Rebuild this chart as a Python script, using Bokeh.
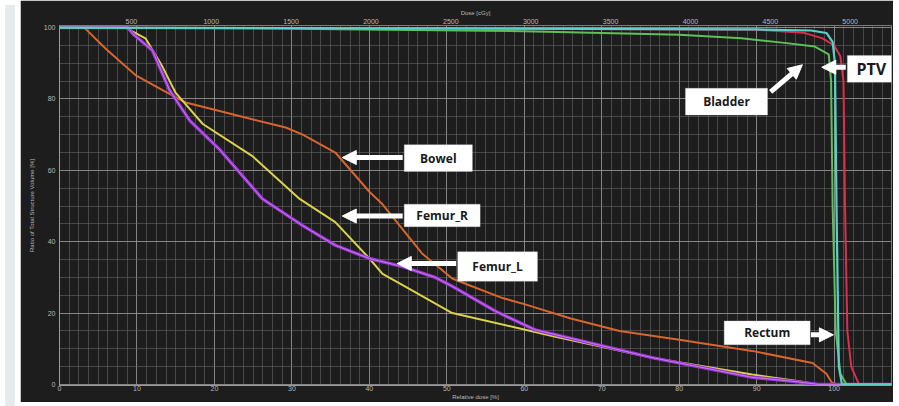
from bokeh.plotting import figure
from bokeh.models import (Range1d, LinearAxis, SingleIntervalTicker, Label, BoxAnnotation,
                          Arrow, NormalHead, Div)
from bokeh.layouts import row
from bokeh.embed import file_html
from bokeh.resources import INLINE

# ---------------- data (relative dose %, volume %) ----------------
ptv_x = [0, 50, 90, 97, 99, 99.8, 100.1, 100.3, 100.6, 101, 108]
ptv_y = [100, 99.8, 99.5, 99.2, 98.5, 96, 90, 50, 5, 0, 0]

rectum_x = [0, 50, 90, 96, 98.5, 100, 100.8, 101.2, 101.4, 101.7, 102.2, 103.2, 108]
rectum_y = [100, 99.8, 99.4, 98.6, 97, 95, 92, 85, 50, 15, 5, 0, 0]

bladder_x = [0, 30, 60, 80, 88, 93.3, 97.5, 99.3, 99.6, 99.8, 100.2, 100.8, 101.6, 108]
bladder_y = [100, 99.7, 99, 98, 97, 95.8, 94.7, 92.5, 85, 50, 15, 3, 0, 0]

bowel_x = [0, 3.2, 6, 9.8, 13.3, 16.3, 22.7, 29.2, 31.4, 35.6, 40, 41.7, 46.8, 50.7,
           52.9, 57.2, 60, 66, 72.3, 80, 89.4, 97.2, 99, 99.7, 100.5, 108]
bowel_y = [100, 100, 94, 86.7, 82.5, 79, 75.5, 72, 70, 65, 54, 50.5, 36.7, 29.7,
           27.8, 24.2, 22.5, 18.5, 15, 12.5, 9.4, 6, 3, 0.5, 0, 0]

femur_r_x = [0, 8.5, 11.1, 13.3, 15, 18.5, 24.9, 31, 35.6, 40, 41.7, 44.3, 50.7,
             63.6, 76.5, 89.4, 95, 98, 108]
femur_r_y = [100, 100, 97, 89, 81.7, 73, 64, 52, 45.5, 35.3, 31, 27.8, 20,
             13.6, 7.5, 2.8, 1, 0, 0]

femur_l_x = [0, 8.8, 9.6, 12, 14.2, 16.8, 20.6, 26.2, 31.4, 35.6, 40, 44.3, 48.5,
             50.7, 56.3, 61.4, 76.5, 89.4, 95, 98, 108]
femur_l_y = [100, 100, 98, 93.6, 82.5, 74, 66, 52, 44.5, 39, 35.3, 33, 30,
             27.5, 20.5, 15.3, 7.5, 2, 0.8, 0, 0]

x_ticks_pct = [0, 10, 20, 30, 40, 50, 60, 70, 80, 90, 100]
y_ticks_pct = [0, 20, 40, 60, 80, 100]
dose_ticks_cgy = [0, 500, 1000, 1500, 2000, 2500, 3000, 3500, 4000, 4500, 5000]

labels = ["Bowel", "Femur_R", "Femur_L", "Bladder", "PTV", "Rectum"]

# ---------------- styles ----------------
BG = "#1d1d1d"
PAGE = "#fdf9e6"
TXT = "#b8b8b8"
H = 402

p = figure(width=873, height=H, output_backend="svg", toolbar_location=None,
           x_range=Range1d(0, 107.4), y_range=Range1d(-0.3, 100.6),
           background_fill_color=BG, border_fill_color=BG,
           min_border_left=39, min_border_right=2, min_border_top=25, min_border_bottom=14,
           outline_line_color="#7a7a7a")

p.extra_x_ranges = {"dose": Range1d(50, 50 + 48.5 * 107.4)}

p.xaxis.ticker = SingleIntervalTicker(interval=10, num_minor_ticks=8)
p.yaxis.ticker = SingleIntervalTicker(interval=20, num_minor_ticks=4)
p.xaxis.major_label_overrides = {v: str(v) for v in x_ticks_pct}
p.yaxis.major_label_overrides = {v: str(v) for v in y_ticks_pct}


def style_axis(ax, line=True):
    ax.axis_line_color = "#9a9a9a" if line else None
    ax.major_tick_line_color = None
    ax.minor_tick_line_color = None
    ax.major_tick_out = 0
    ax.major_tick_in = 0
    ax.minor_tick_out = 0
    ax.minor_tick_in = 0
    ax.major_label_text_color = TXT
    ax.major_label_text_font_size = "7px"
    ax.major_label_standoff = 1
    ax.axis_label_text_color = TXT
    ax.axis_label_text_font_size = "6px"
    ax.axis_label_text_font_style = "normal"
    ax.axis_label_standoff = 0


style_axis(p.xaxis[0])
style_axis(p.yaxis[0])
p.yaxis[0].major_label_standoff = 4
p.yaxis[0].axis_label_standoff = 6
p.xaxis[0].major_label_standoff = 0
p.xaxis.axis_label = "Relative dose [%]"
p.yaxis.axis_label = "Ratio of Total Structure Volume [%]"

top = LinearAxis(x_range_name="dose", ticker=SingleIntervalTicker(interval=500),
                 axis_label="Dose [cGy]")
style_axis(top, line=False)
top.major_label_standoff = 2
p.add_layout(top, "above")

p.xgrid.grid_line_color = "#9a9a9a"
p.xgrid.grid_line_alpha = 0.75
p.ygrid.grid_line_color = "#9a9a9a"
p.ygrid.grid_line_alpha = 0.75
p.xgrid.minor_grid_line_color = "#6a6a6a"
p.xgrid.minor_grid_line_alpha = 0.55
p.ygrid.minor_grid_line_color = "#6a6a6a"
p.ygrid.minor_grid_line_alpha = 0.55

# ---------------- curves ----------------
p.line(bowel_x, bowel_y, line_color="#d8652e", line_width=2)
p.line(femur_r_x, femur_r_y, line_color="#d9d24a", line_width=2)
p.line(femur_l_x, femur_l_y, line_color="#9a34d2", line_width=3.4)
p.line(femur_l_x, femur_l_y, line_color="#d59af0", line_width=1, line_alpha=0.7)
p.line(rectum_x, rectum_y, line_color="#d8304e", line_width=2)
p.line(bladder_x, bladder_y, line_color="#5fbf5a", line_width=2)
p.line(ptv_x, ptv_y, line_color="#5ccfca", line_width=2.2)

# ---------------- callouts ----------------
boxes = {
    "Bowel":   (44.5, 53.3, 59.7, 67.2),
    "Femur_R": (44.5, 54.3, 44.2, 50.5),
    "Femur_L": (51.4, 61.7, 28.9, 37.2),
    "Bladder": (80.8, 91.4, 75.5, 83.0),
    "PTV":     (101.7, 107.9, 84.7, 92.2),
    "Rectum":  (85.8, 96.9, 11.1, 17.8),
}
arrows = {
    "Bowel":   (44.3, 63.6, 36.5, 63.6),
    "Femur_R": (44.3, 47.2, 36.5, 47.2),
    "Femur_L": (51.2, 33.9, 43.6, 33.9),
    "Bladder": (91.8, 82.0, 95.9, 89.6),
    "PTV":     (101.5, 88.9, 98.4, 88.9),
    "Rectum":  (97.0, 13.9, 99.9, 13.9),
}
for name in labels:
    l, r, b, t = boxes[name]
    p.add_layout(BoxAnnotation(left=l, right=r, bottom=b, top=t, fill_color="white",
                               fill_alpha=1, line_color="#d0d0d0", line_width=1, level="overlay"))
    p.add_layout(Label(x=(l + r) / 2, y=(b + t) / 2, text=name, text_align="center",
                       text_baseline="middle", text_color="#1a1a1a",
                       text_font="Open Sans", text_font_style="bold",
                       text_font_size="16px" if name == "PTV" else "12px", level="overlay"))
    xs, ys, xe, ye = arrows[name]
    p.add_layout(Arrow(x_start=xs, y_start=ys, x_end=xe, y_end=ye,
                       line_color="white", line_width=5,
                       end=NormalHead(size=14, fill_color="white", line_color="white"),
                       level="overlay"))

left_strip = Div(width=10, height=H, styles={"background-color": "#e6ebee"})
layout = row(left_strip, p)

html = file_html(layout, INLINE)
html = html.replace("<body>", '<body style="background-color:%s;">' % PAGE, 1)
open("out.html", "w").write(html)
